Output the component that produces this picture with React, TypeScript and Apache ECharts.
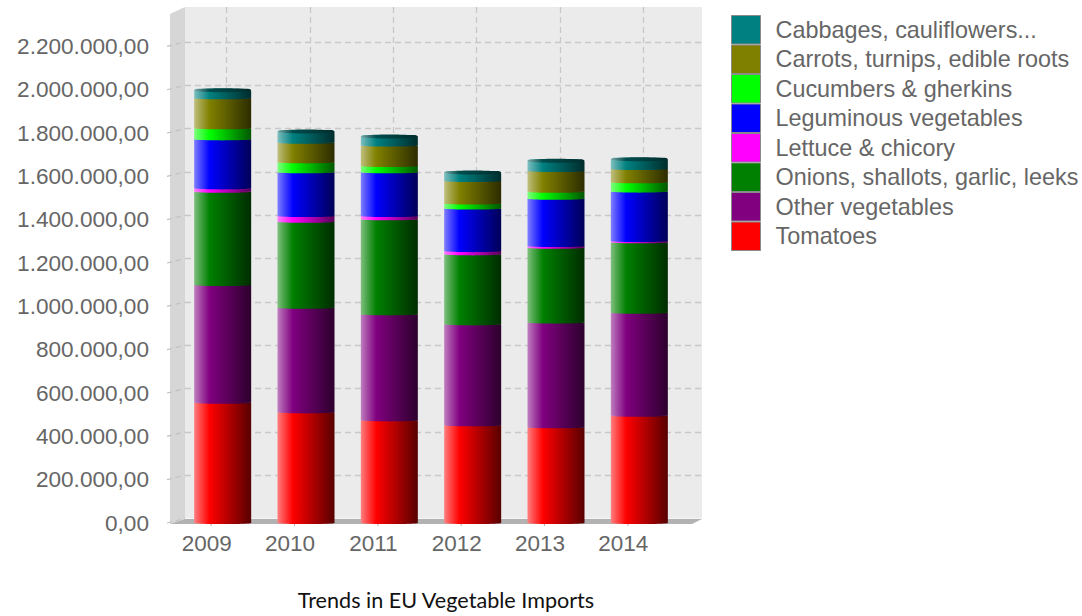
import React, { useEffect, useRef } from "react";
import * as echarts from "echarts";

const years = ["2009", "2010", "2011", "2012", "2013", "2014"];
const yTicks = [0, 200000, 400000, 600000, 800000, 1000000, 1200000, 1400000, 1600000, 1800000, 2000000, 2200000];

const tomatoes = [555000, 511000, 474000, 451000, 442000, 495000];
const otherVegetables = [543000, 483000, 489000, 466000, 483000, 476000];
const onions = [431000, 397000, 439000, 323000, 346000, 325000];
const lettuce = [16000, 26000, 15000, 15000, 8000, 6000];
const leguminous = [226000, 202000, 202000, 197000, 218000, 228000];
const cucumbers = [51000, 46000, 29000, 23000, 32000, 43000];
const carrots = [139000, 90000, 94000, 104000, 96000, 61000];
const cabbages = [43000, 59000, 49000, 46000, 54000, 52000];

// bottom of the stack first
const stackNames = [
  "Tomatoes",
  "Other vegetables",
  "Onions, shallots, garlic, leeks",
  "Lettuce & chicory",
  "Leguminous vegetables",
  "Cucumbers & gherkins",
  "Carrots, turnips, edible roots",
  "Cabbages, cauliflowers...",
];
const stackValues = [tomatoes, otherVegetables, onions, lettuce, leguminous, cucumbers, carrots, cabbages];
const stackColors = ["#ff0000", "#800080", "#008000", "#ff00ff", "#0000ff", "#00ff00", "#808000", "#008080"];

const AXIS_MAX = 2361000;
const FONT = "'Liberation Sans', Arial, sans-serif";

function rgb(hex: string) {
  return [1, 3, 5].map((i) => parseInt(hex.slice(i, i + 2), 16));
}
// darken by `dark`, then lighten towards white by `light`
function shade(hex: string, dark: number, light: number) {
  const f = (c: number) => {
    const d = c * (1 - dark);
    return Math.round(d + (255 - d) * light);
  };
  const [r, g, b] = rgb(hex);
  return `rgb(${f(r)},${f(g)},${f(b)})`;
}
function barGradient(hex: string, dark = 0) {
  return new echarts.graphic.LinearGradient(0, 0, 1, 0, [
    { offset: 0, color: shade(hex, dark, 0.5) },
    { offset: 0.1, color: shade(hex, dark, 0.3) },
    { offset: 0.27, color: shade(hex, dark, 0) },
    { offset: 1, color: shade(hex, Math.max(0.66, dark), 0) },
  ]);
}
function formatTick(v: number) {
  return String(v).replace(/\B(?=(\d{3})+$)/g, ".") + ",00";
}

// one entry per segment boundary: [year index, cumulative value, stack index]
const boundaries: number[][] = [];
years.forEach((_, i) => {
  let sum = 0;
  stackValues.forEach((vals, s) => {
    boundaries.push([i, sum, s]);
    sum += vals[i];
  });
});
const totals = years.map((_, i) => [i, stackValues.reduce((a, vals) => a + vals[i], 0)]);

export default function App() {
  const ref = useRef<HTMLDivElement>(null);
  useEffect(() => {
    document.body.style.margin = "0";
    document.body.style.background = "#fff";
    const chart = echarts.init(ref.current!, undefined, { renderer: "svg" });
    const gridLine = { color: "#c8c8c8", type: [6, 4] as number[], width: 1.3 };
    const hiddenX = { type: "category" as const, data: years, axisLine: { show: false }, axisTick: { show: false }, axisLabel: { show: false }, splitLine: { show: false } };
    const hiddenY = { type: "value" as const, min: 0, max: AXIS_MAX, interval: 200000, axisLine: { show: false }, axisTick: { show: false }, axisLabel: { show: false }, splitLine: { show: false } };
    chart.setOption({
      animation: false,
      backgroundColor: "#ffffff",
      title: {
        text: "Trends in EU Vegetable Imports",
        left: 441,
        top: 584,
        textAlign: "center",
        textStyle: { fontFamily: "Lato, sans-serif", fontWeight: "normal", fontSize: 21.6, color: "#111111" },
      },
      legend: {
        orient: "vertical",
        left: 731,
        top: 15,
        padding: 0,
        itemWidth: 29,
        itemHeight: 28.5,
        itemGap: 0,
        icon: "rect",
        selectedMode: false,
        textStyle: { fontFamily: FONT, fontSize: 23.4, color: "#666666", padding: [0, 0, 0, 10] },
        data: stackNames.map((name, s) => ({
          name,
          itemStyle: { color: stackColors[s], borderColor: "#8a8a8a", borderWidth: 1 },
        })).reverse(),
      },
      grid: [
        { left: 181, width: 500, top: 11.5, height: 511.5 }, // bars, front plane
        { left: 185, width: 517, top: 7, height: 511.5, show: true, backgroundColor: "#ebebeb", borderWidth: 0 }, // back wall
        { left: 165, width: 500, top: 11.5, height: 511.5 }, // axis labels, front edge
        { left: 185, width: 500, top: 7, height: 511.5 }, // back wall vertical lines
      ],
      xAxis: [
        { ...hiddenX, gridIndex: 0 },
        { ...hiddenX, gridIndex: 1 },
        { ...hiddenX, gridIndex: 2, axisLabel: { show: true, fontFamily: FONT, fontSize: 22.5, color: "#666666", margin: 9 } },
        { ...hiddenX, gridIndex: 3, splitLine: { show: true, alignWithLabel: true, lineStyle: gridLine } as any },
      ],
      yAxis: [
        { ...hiddenY, gridIndex: 0 },
        { ...hiddenY, gridIndex: 1, splitLine: { show: true, showMinLine: false, showMaxLine: false, lineStyle: gridLine } },
        {
          ...hiddenY,
          gridIndex: 2,
          axisLabel: {
            show: true,
            fontFamily: FONT,
            fontSize: 22.6,
            color: "#666666",
            margin: 16,
            showMaxLabel: false,
            formatter: (v: number) => formatTick(v),
          },
        },
        { ...hiddenY, gridIndex: 3 },
      ],
      graphic: [
        {
          type: "polygon",
          silent: true,
          z: -5,
          shape: { points: [[170, 14], [185, 7], [185, 519], [170, 524]] },
          style: { fill: "#d6d6d6" },
        },
        {
          type: "polygon",
          silent: true,
          z: -5,
          shape: { points: [[170, 524], [185, 519], [702, 519], [692, 524]] },
          style: { fill: "#b2b2b2" },
        },
      ],
      series: [
        ...stackNames.map((name, s) => ({
          type: "bar",
          name,
          stack: "total",
          xAxisIndex: 0,
          yAxisIndex: 0,
          barWidth: 57,
          data: stackValues[s],
          z: 3,
          itemStyle: {
            color: barGradient(stackColors[s]),
            borderRadius: s === stackNames.length - 1 ? [3, 3, 0, 0] : 0,
          },
        })),
        {
          type: "custom",
          xAxisIndex: 0,
          yAxisIndex: 0,
          z: 4,
          silent: true,
          clip: false,
          data: boundaries,
          encode: { x: 0, y: 1 },
          renderItem: (_p: any, api: any) => {
            const [cx, cy] = api.coord([api.value(0), api.value(1)]);
            return {
              type: "ellipse",
              shape: { cx, cy, rx: 28.5, ry: 1.1 },
              style: { fill: barGradient(stackColors[api.value(2)]) },
            };
          },
        },
        {
          type: "custom",
          xAxisIndex: 0,
          yAxisIndex: 0,
          z: 5,
          silent: true,
          clip: false,
          data: totals,
          encode: { x: 0, y: 1 },
          renderItem: (_p: any, api: any) => {
            const [cx, cy] = api.coord([api.value(0), api.value(1)]);
            return {
              type: "ellipse",
              shape: { cx, cy: cy + 1.5, rx: 28.5, ry: 2 },
              style: { fill: barGradient(stackColors[stackColors.length - 1], 0.4) },
            };
          },
        },
        {
          type: "custom",
          xAxisIndex: 2,
          yAxisIndex: 2,
          z: 1,
          silent: true,
          clip: false,
          data: yTicks.map((v) => [0, v]),
          encode: { x: 0, y: 1 },
          renderItem: (p: any, api: any) => {
            const y = api.coord([0, api.value(1)])[1];
            const x = p.coordSys.x;
            return {
              type: "line",
              shape: { x1: x + 2, y1: y, x2: x + 20, y2: y - 4.5 },
              style: { stroke: "#c0c0c0", lineWidth: 1.2, lineDash: [5, 4] },
            };
          },
        },
        {
          type: "custom",
          xAxisIndex: 2,
          yAxisIndex: 2,
          z: 1,
          silent: true,
          clip: false,
          data: years.map((_, i) => [i, 0]),
          encode: { x: 0, y: 1 },
          renderItem: (_p: any, api: any) => {
            const [x, y] = api.coord([api.value(0), 0]);
            return {
              type: "line",
              shape: { x1: x + 4.5, y1: y + 1, x2: x + 4.5, y2: y + 3 },
              style: { stroke: "#b2b2b2", lineWidth: 1 },
            };
          },
        },
      ],
    });
    return () => chart.dispose();
  }, []);
  return <div ref={ref} style={{ width: 1082, height: 616 }} />;
}
